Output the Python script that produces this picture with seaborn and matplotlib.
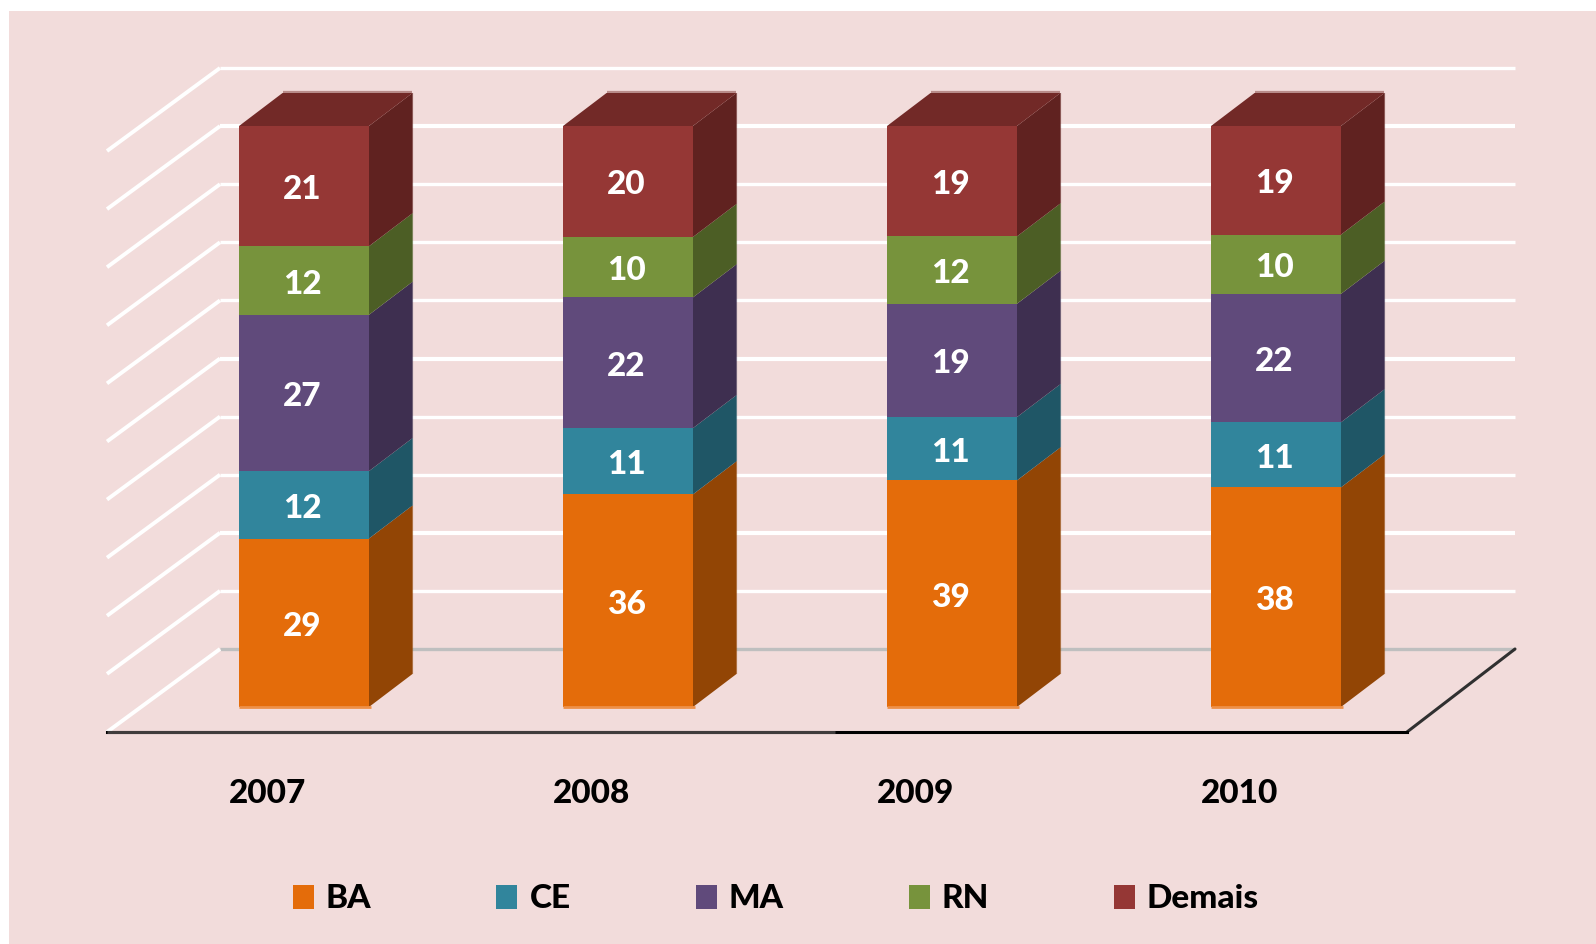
import numpy as np
import pandas as pd
import matplotlib
matplotlib.use("Agg")
import matplotlib.pyplot as plt
from matplotlib.patches import Patch, Polygon, Rectangle
from matplotlib.transforms import ScaledTranslation
import seaborn as sns

years = ["2007", "2008", "2009", "2010"]
series_names = ["BA", "CE", "MA", "RN", "Demais"]
# segment heights as measured on the picture (100 % stacked)
ba = [29.0, 36.6, 39.0, 37.8]
ce = [11.6, 11.4, 10.9, 11.2]
ma = [26.9, 22.5, 19.5, 22.1]
rn = [11.8, 10.4, 11.6, 10.2]
demais = [20.7, 19.1, 19.0, 18.7]
# the numbers printed on the bars
ba_labels = ["29", "36", "39", "38"]
ce_labels = ["12", "11", "11", "11"]
ma_labels = ["27", "22", "19", "22"]
rn_labels = ["12", "10", "12", "10"]
demais_labels = ["21", "20", "19", "19"]
front_colors = ["#e46c0a", "#31859c", "#604a7b", "#77933c", "#953735"]
side_colors = ["#924505", "#1f5666", "#3e2f50", "#4c5e25", "#602220"]
top_color = "#722927"
bg = "#f2dcdb"

W, H = 1596, 944
sns.set_theme(style="white")
plt.rcParams["font.family"] = ["Lato", "DejaVu Sans"]
WEIGHT = "black"
FS = 24

fig = plt.figure(figsize=(W / 100, H / 100), dpi=100, facecolor="white")
fig.patches.append(Rectangle((9 / W, 0), (W - 9) / W, (H - 11) / H,
                             transform=fig.transFigure, facecolor=bg, edgecolor="none", zorder=-10))

# axes: bottom spine is the front edge of the floor
ax = fig.add_axes([107 / W, (H - 732) / H, (1407 - 107) / W, (732 - 126) / H])
ax.patch.set_alpha(0)

series = [ba, ce, ma, rn, demais]
labels = [ba_labels, ce_labels, ma_labels, rn_labels, demais_labels]
bottom = np.zeros(len(years))
for name, vals, col in zip(series_names, series, front_colors):
    df = pd.DataFrame({"year": years, "value": vals})
    sns.barplot(data=df, x="year", y="value", color=col, saturation=1, width=0.401,
                bottom=bottom, ax=ax, errorbar=None, zorder=5, linewidth=0)
    bottom = bottom + np.array(vals)

PX = 324.0   # pixels per category
PY = 5.81    # pixels per percentage point
ax.set_xlim((107 - 304) / PX, (1407 - 304) / PX)
ax.set_ylim(-25 / PY, 100)
ax.set_xlabel("")
ax.set_ylabel("")
ax.set_yticks([])
for s in ["left", "right", "top"]:
    ax.spines[s].set_visible(False)
ax.spines["bottom"].set_color("black")
ax.spines["bottom"].set_linewidth(2.2)

# 3-D extrusion of the bars, taken from the bars' own geometry
dx, dy = 43.5 / PX, 33 / PY
for c, side, front, lab, is_top in zip(ax.containers, side_colors, front_colors, labels,
                                       [False, False, False, False, True]):
    for p in c.patches:
        x0, x1 = p.get_x(), p.get_x() + p.get_width()
        y0, y1 = p.get_y(), p.get_y() + p.get_height()
        ax.add_patch(Polygon([(x1, y0), (x1 + dx, y0 + dy), (x1 + dx, y1 + dy), (x1, y1)],
                             closed=True, facecolor=side, edgecolor="none", zorder=4, clip_on=False))
        ax.plot([x1 + dx, x1 + dx], [y0 + dy, y1 + dy], color=side, alpha=0.45, lw=1.6,
                zorder=3.9, clip_on=False, solid_capstyle="butt")
        if is_top:
            ax.add_patch(Polygon([(x0, y1), (x0 + dx, y1 + dy), (x1 + dx, y1 + dy), (x1, y1)],
                                 closed=True, facecolor=top_color, edgecolor="none", zorder=4, clip_on=False))
            ax.plot([x0 + dx, x1 + dx], [y1 + dy + 0.2, y1 + dy + 0.2], color=top_color, alpha=0.45,
                    lw=1.6, zorder=3.9, clip_on=False, solid_capstyle="butt")
        if y0 == 0:
            ax.plot([x0, x1 + 2 / PX], [y0, y0], color="#ee9048", lw=2, zorder=6, clip_on=False,
                    solid_capstyle="butt")
    texts = ax.bar_label(c, labels=lab, label_type="center", color="white", fontweight=WEIGHT,
                         fontsize=FS, zorder=7)
    for t in texts:
        t.xyann = (-1.4, -2.5)

# back wall, side wall and floor
wall_dx = 113 / PX
wall_dy = 83 / PY
floor_y = -25 / PY
x_l = (107 - 304) / PX
x_r = (1407 - 304) / PX
for v in range(0, 101, 10):
    ycol = "#bfbfbf" if v == 0 else "white"
    lw = 3.0 if v in (20, 50, 90) else 2.4
    ax.plot([x_l + wall_dx, x_r + wall_dx - 5 / PX], [floor_y + wall_dy + v] * 2, color=ycol, lw=lw,
            zorder=1, clip_on=False, solid_capstyle="butt")
    ax.plot([x_l, x_l + wall_dx], [floor_y + v, floor_y + wall_dy + v], color="white", lw=2.8,
            zorder=1, clip_on=False, solid_capstyle="butt")
ax.plot([x_r, x_r + wall_dx - 5 / PX], [floor_y, floor_y + wall_dy], color="#303030", lw=2.2,
        zorder=2, clip_on=False)
ax.plot([x_l, (835 - 304) / PX], [floor_y, floor_y], color="#403c3c", lw=2.2, zorder=3,
        clip_on=False, solid_capstyle="butt")

# category labels sit under the front of the floor
ax.tick_params(axis="x", length=0, pad=33.5, labelsize=FS, labelcolor="black")
offset = ScaledTranslation(-36 / 100, 0, fig.dpi_scale_trans)
for t in ax.get_xticklabels():
    t.set_fontweight(WEIGHT)
    t.set_transform(t.get_transform() + offset)

handles = [Patch(facecolor=c, edgecolor="none", label=n) for n, c in zip(series_names, front_colors)]
leg = ax.legend(handles=handles, ncol=5, frameon=False, fontsize=FS,
                loc="center", bbox_to_anchor=(776 / W, (H - 899) / H),
                bbox_transform=fig.transFigure, handlelength=0.63, handleheight=0.72,
                handletextpad=0.36, columnspacing=3.75, borderpad=0, borderaxespad=0)
for t in leg.get_texts():
    t.set_fontweight(WEIGHT)
    t.set_color("black")

fig.savefig("out.png", dpi=100)
